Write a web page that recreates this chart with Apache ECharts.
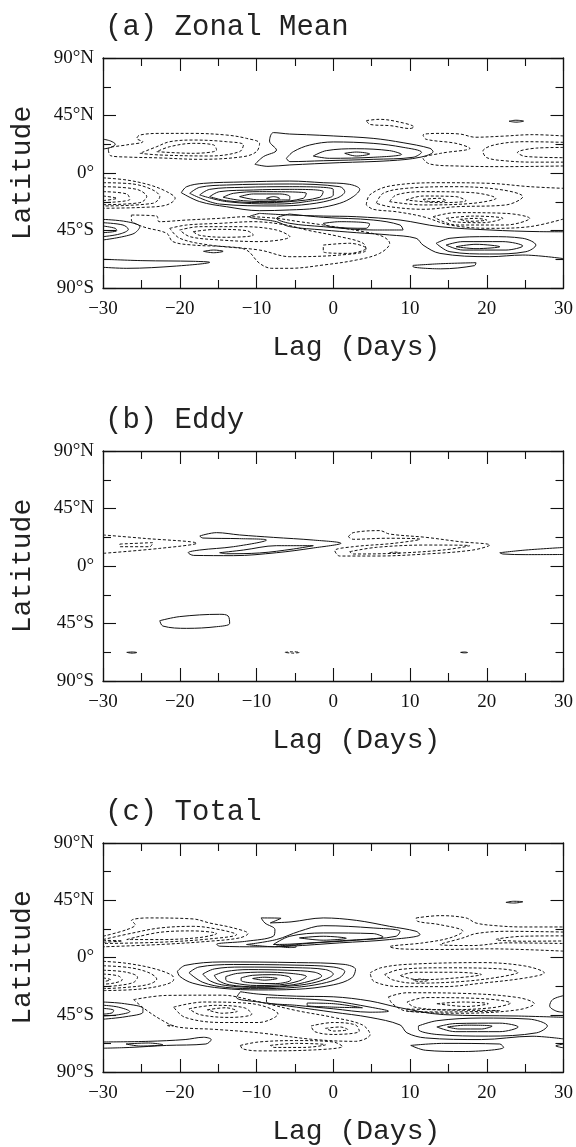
<!DOCTYPE html>
<html><head><meta charset="utf-8">
<script src="https://cdn.jsdelivr.net/npm/echarts@6/dist/echarts.min.js"></script>
<style>html,body{margin:0;padding:0;background:#fff}#c{width:576px;height:1147px}</style>
</head><body><div id="c"></div>
<script>
// ---- tick values / labels ----
const lagTickValues = [-30,-20,-10,0,10,20,30];
const lagTickLabels = ['\u221230','\u221220','\u221210','0','10','20','30'];
const latTickValues = [-90,-45,0,45,90];
const latTickLabels = ['90\u00b0S','45\u00b0S','0\u00b0','45\u00b0N','90\u00b0N'];
const panelTitles = ['(a) Zonal Mean','(b) Eddy','(c) Total'];
const xName = 'Lag (Days)';
const yName = 'Latitude';

// ---- contours, [lag, latitude] points ----
// (a) Zonal mean: positive (solid)
const zonalPos = [
 [[-30,26.5],[-29,25],[-28.4,22.5],[-29,20],[-30,18.8]],
 [[-10.2,6.8],[-9.1,12.8],[-7.4,18],[-8.3,25],[-7.8,31.6],[-5.7,30.5],[-3.5,30],[0,29],[5.2,27.1],[9.1,23.7],[12.6,19.3],[13,16.7],[11.3,12.3],[7.35,9.6],[0.85,8.1],[-5.66,6.3],[-8.5,5.2],[-10.2,6.8]],
 [[-6.1,11.5],[-5.2,16.7],[-3.06,21.9],[0,24.3],[5.2,23.2],[9.1,20.1],[11.5,16.2],[10.4,12.3],[5.2,10.7],[-1.3,9.6],[-5.66,8.9],[-6.1,11.5]],
 [[-2.6,13.3],[-0.9,17.5],[3,19],[7.35,17.5],[8.9,14.6],[5.2,12.3],[-0.5,11.5],[-2.6,13.3]],
 [[1.5,15.4],[3,16.4],[4.75,14.9],[3,13.3],[1.5,15.4]],
 [[22.9,40.5],[23.8,41.3],[24.8,40.6],[23.8,39.8],[22.9,40.5]],
 [[-19.8,-15.4],[-19.1,-10.7],[-16.9,-8.1],[-11.7,-7],[-5.66,-6.3],[-1.3,-7.6],[2.15,-8.9],[3.45,-12.8],[2.6,-18.5],[0.85,-23.7],[-2.2,-27.6],[-5.66,-28.9],[-9.6,-29.5],[-13.9,-26.4],[-17.4,-22.4],[-19.8,-15.4]],
 [[-18.7,-15.9],[-17.4,-11.2],[-13.9,-9.4],[-5.66,-8.6],[0.85,-10.7],[1.5,-14.6],[0.4,-19.8],[-3.06,-24.3],[-7.4,-25.8],[-14.8,-24.3],[-18.7,-15.9]],
 [[-17.4,-17.2],[-16.1,-12.8],[-11.7,-11.2],[-5.66,-10.7],[0,-12.8],[0,-17.2],[-3.5,-22.4],[-7.4,-24.3],[-13.9,-22.4],[-17.4,-17.2]],
 [[-16.1,-18.5],[-14.8,-14.6],[-10.4,-13.3],[-5.66,-12.8],[-1.3,-14.6],[-1.75,-19],[-5.66,-22.4],[-9.6,-23.2],[-13.9,-21.7],[-16.1,-18.5]],
 [[-14.35,-19],[-13,-15.9],[-9.6,-14.6],[-3.5,-15.9],[-3.9,-19.8],[-7.4,-22.4],[-11.7,-21.7],[-14.35,-19]],
 [[-12.2,-18.5],[-10.4,-16.4],[-7,-16.4],[-5.66,-18.5],[-5.7,-21.1],[-9.6,-21.1],[-12.2,-18.5]],
 [[-8.7,-19.8],[-7.8,-18.5],[-7,-19.8],[-7.8,-21.1],[-8.7,-19.8]],
 [[-9.6,-31.6],[-5.66,-32.9],[-1.3,-33.7],[3,-34.2],[8.7,-36.8],[13.9,-42],[20.4,-44.6],[26.9,-45.9],[30,-46]],
 [[30,-67],[24.7,-64.2],[20.4,-65.5],[13.9,-62.9],[11.7,-56.4],[10.8,-51.1],[7.35,-48.5],[3,-46.7],[-1.3,-44.6],[-5.66,-42],[-7.4,-38.1],[-10.9,-34.2],[-9.6,-31.6]],
 [[-5.7,-32.1],[-1.3,-34.7],[5.2,-36.8],[8.7,-40.7],[9.1,-44.6],[5.2,-44.6],[-1.3,-42],[-5.66,-39.4],[-7.4,-35.5],[-5.7,-32.1]],
 [[-1.3,-39.4],[0.85,-38.1],[4.75,-39.9],[4.3,-43.3],[-0.5,-42],[-1.3,-39.4]],
 [[13.4,-55],[15.2,-51.1],[20.4,-49.8],[24.7,-51.1],[26.4,-56.4],[25.1,-61.6],[20.4,-63.4],[15.2,-61.6],[13.4,-55]],
 [[14.7,-56.4],[16.9,-53.7],[22.1,-53.7],[24.7,-57.1],[22.5,-60.3],[16.9,-60.3],[14.7,-56.4]],
 [[16,-57.7],[18.6,-55.8],[21.7,-57.7],[18.6,-59.2],[16,-57.7]],
 [[-30,-36.3],[-26.9,-38.1],[-25.2,-42],[-26.1,-47.7],[-30,-52.4]],
 [[-30,-38.9],[-27.4,-40.7],[-26.7,-44.1],[-27.8,-47.7],[-30,-49.8]],
 [[-30,-41.5],[-28.4,-43.3],[-28.2,-45.1],[-30,-46.7]],
 [[-30,-67.5],[-24.8,-68.6],[-18.25,-69.1],[-16.1,-69.9],[-20.4,-72.8],[-26.9,-74.6],[-30,-73.8]],
 [[-16.9,-61.3],[-15.6,-60.3],[-14.35,-61.3],[-15.6,-62.4],[-16.9,-61.3]],
 [[10.4,-72.3],[14,-71],[18.6,-70.2],[18.4,-72.5],[14,-75],[10.4,-73.3],[10.4,-72.3]]
];
// (a) Zonal mean: negative (dashed)
const zonalNeg = [
 [[-29.3,18],[-29,13.5],[-26.9,12.5],[-22.6,11.8],[-17.4,10.7],[-11.7,12.8],[-10,16.7],[-9.6,23.2],[-11.3,27.1],[-13.9,29.7],[-18.25,31],[-22.6,31],[-25.2,29.7],[-25.6,27.1],[-24.8,24.5],[-26.9,22],[-29.3,19.3],[-29.3,18]],
 [[-25.2,15.4],[-22.6,14.1],[-16.1,13.3],[-12.2,16.7],[-11.7,22],[-13.9,24.5],[-18.25,25.8],[-21.3,24.5],[-23,20.6],[-25.2,15.4]],
 [[-23,16.7],[-18.25,15.4],[-15.2,18],[-15.6,22],[-18.25,23.2],[-21.3,20.6],[-23,16.7]],
 [[4.3,41],[6,42],[8.5,40],[10.5,36],[10,34.8],[7.5,37],[4.8,38],[4.3,41]],
 [[30,29],[26,30],[22,28.8],[18.5,28],[16.5,30.5],[13.9,31],[11.7,29.7],[12.1,26.4],[16,23.2],[17.8,19.3],[14,15.4],[11.7,11.5],[12.6,7],[16,5.5],[22.5,5],[30,5.5]],
 [[30,24],[25,24.5],[21,22],[19.5,17],[20,12],[22.5,9.5],[26,8.5],[30,8.5]],
 [[30,20],[26.5,19.5],[24,16],[25,13],[30,12]],
 [[-30,-3.8],[-26.9,-5.5],[-23.9,-9.4],[-21.7,-14.6],[-20.6,-19.8],[-21.7,-25],[-24.8,-26.9],[-30,-27.6]],
 [[-30,-7.6],[-26.1,-8.6],[-23.5,-13.3],[-22.6,-18.5],[-23.5,-23.7],[-30,-25.8]],
 [[-30,-10.7],[-25.6,-12.8],[-24.3,-18.5],[-25.2,-23.2],[-30,-24.8]],
 [[-30,-14.6],[-26.9,-16.4],[-26.5,-20.6],[-30,-23.2]],
 [[-30,-18],[-28.2,-19.8],[-30,-21.6]],
 [[-26.3,-32.9],[-23,-33.7],[-22.7,-38.1],[-19.1,-36.8],[-14.8,-35.5],[-11.3,-34.2],[-7.4,-35.5],[-4.4,-38.1],[-1.3,-40.7],[3.9,-45.9],[6.5,-49.8],[7.35,-55],[6.05,-62.9],[3,-68.1],[-1.3,-72],[-5.66,-74.6],[-8,-74.6],[-9.6,-70.7],[-11.3,-60.3],[-13.9,-57.7],[-18.25,-56.4],[-20.9,-53.7],[-21.7,-47.2],[-24.8,-42],[-26.3,-36.8],[-26.3,-32.9]],
 [[-21.3,-43.3],[-19.1,-40.7],[-14.8,-39.4],[-10.4,-38.1],[-6.1,-40.7],[-3.5,-44.6],[0.85,-49.8],[3.9,-55],[4.3,-60.3],[0.85,-64.2],[-5.66,-65.5],[-9.6,-60.3],[-16.1,-56.4],[-20,-51.1],[-21.3,-43.3]],
 [[-20,-44.6],[-17.4,-42],[-11.7,-42],[-7.4,-44.6],[-5.66,-49.8],[-9.6,-53.7],[-14.8,-52.4],[-18.7,-49.8],[-20,-44.6]],
 [[-18.25,-45.9],[-15.2,-44.1],[-11.3,-45.1],[-10.4,-48.5],[-13.9,-50.3],[-17.4,-48.8],[-18.25,-45.9]],
 [[-1.3,-56.4],[2.15,-55],[4.3,-58.9],[2.15,-62.9],[-1.3,-61.6],[-1.3,-56.4]],
 [[4.3,-25],[4.75,-17.2],[7.35,-10.2],[13.9,-7.6],[20.4,-8.1],[25.6,-10.7],[30,-12]],
 [[30,-36],[25.6,-42],[20.4,-43.3],[15.2,-40.7],[11.7,-34.2],[8.2,-30.3],[5.2,-28.4],[4.3,-25]],
 [[5.6,-23.7],[6.5,-15.9],[9.5,-12],[16,-10.7],[22.1,-13.3],[24.7,-18.5],[22.5,-25],[16,-26.4],[11.7,-28.4],[7.35,-26.4],[5.6,-23.7]],
 [[7.35,-22.4],[8.2,-17.2],[11.7,-14.6],[18.2,-15.4],[21.2,-19.8],[18.2,-23.7],[11.7,-25],[7.35,-22.4]],
 [[9.5,-21.1],[11.7,-18],[16,-18.5],[17.3,-21.7],[13.9,-23.2],[9.5,-21.1]],
 [[11.7,-20.6],[13.9,-19.8],[14.7,-21.7],[12.6,-22.4],[11.7,-20.6]],
 [[13,-34.2],[16,-31],[22.5,-31.6],[25.6,-35.5],[22.5,-40.7],[16,-40.7],[13,-34.2]],
 [[14.7,-35.5],[18.2,-33.7],[22.1,-35.5],[19.5,-38.9],[15.6,-38.1],[14.7,-35.5]],
 [[16.5,-36.3],[18.6,-35.5],[20,-36.8],[17.8,-37.8],[16.5,-36.3]]
];
// (b) Eddy
const eddyPos = [
 [[-17.4,23.5],[-15.2,26.1],[-12.2,24.3],[-7.8,22.4],[-2.6,20.3],[1,17.8],[-2.6,14.1],[-7.4,10.4],[-13,8.1],[-18.2,8.3],[-18.9,10.4],[-17.4,12.5],[-13,15.1],[-8.7,20.3],[-12.2,21.4],[-17,21.9],[-17.4,23.5]],
 [[-14.8,10.4],[-11.7,12.5],[-7.4,15.9],[-2.6,15.9],[-5.2,13.3],[-9.6,10.2],[-13.9,9.6],[-14.8,10.4]],
 [[21.7,10.4],[25.1,12.5],[30,14.5]],
 [[30,9],[25.1,8.9],[22.1,9.4],[21.7,10.4]],
 [[-22.6,-42.8],[-20,-39.6],[-14.8,-37.8],[-13.7,-39.1],[-13.5,-44.9],[-15.2,-47.5],[-19.1,-48.8],[-22.2,-47],[-22.6,-42.8]],
 [[-26.9,-67.6],[-26.2,-67.3],[-25.6,-67.7],[-26.2,-68.2],[-26.9,-67.6]],
 [[16.6,-67.6],[17.1,-67.3],[17.5,-67.7],[17.1,-68],[16.6,-67.6]]
];
const eddyNeg = [
 [[-30,24.3],[-24.8,21.7],[-17.8,17.8],[-22.6,13.8],[-30,9.9]],
 [[-27.8,17.2],[-23.5,18.3],[-23.9,15.1],[-27.8,15.1],[-27.8,17.2]],
 [[1.97,22.9],[2.6,26.1],[6.05,27.7],[7.35,25],[12.1,22.4],[16.5,19],[20.4,16.4],[18.2,12.5],[12.1,9.4],[5.6,7.8],[0.84,7.8],[0.2,12],[2.6,15.1],[7.8,17.7],[11.3,20.9],[6.9,21.7],[2.6,20.9],[1.97,22.9]],
 [[2.15,11.2],[5.6,14.6],[12.1,16.4],[17.8,15.9],[14.3,12.5],[7.8,9.9],[2.6,9.4],[2.15,11.2]],
 [[7.35,10.4],[8,10.9],[8.7,10.2],[8,9.8],[7.35,10.4]],
 [[-6.3,-67.6],[-5.3,-67.1],[-4.4,-67.6],[-5.3,-68.2],[-6.3,-67.6]]
];
// (c) Total: positive (solid)
const totalPos = [
 [[-9.4,31.1],[-6.8,30.8],[-8.2,27.2],[-5.5,28],[-1.3,31.1],[3,29.2],[7.35,24.5],[10.8,20.6],[11.3,18],[7.35,14.1],[0.85,11.5],[-5.66,8.9],[-9.6,8.4],[-14.8,8.9],[-15.2,10.4],[-11.3,12.8],[-7.8,16.7],[-7.6,21.9],[-8.9,27.1],[-9.4,31.1]],
 [[-11.3,10.2],[-7.4,14.1],[-4.4,20.6],[-1.3,25],[5.2,23.2],[8.7,20.6],[8.2,16.7],[3,13.6],[-3.5,11],[-7.4,8.4],[-11.3,10.2]],
 [[-7.8,10.2],[-5.66,16.7],[-1.3,19.3],[5.2,18.8],[6.5,16.2],[0.85,13.1],[-5.66,10.5],[-7.8,10.2]],
 [[-4.4,15.4],[-1.3,16.7],[1.7,15.1],[-1.3,13.6],[-4.4,15.4]],
 [[-7.4,8.9],[-5.2,9.9],[-4.8,8.4],[-5.7,7.8],[-7.4,8.9]],
 [[22.5,43.3],[23.5,44.2],[24.7,43.8],[23.5,42.8],[22.5,43.3]],
 [[-20.3,-10.8],[-19.3,-6.2],[-14.5,-3.5],[-4.8,-4],[1.4,-5.4],[2.9,-9.4],[2.4,-16.1],[0,-21.5],[-4.8,-25],[-9.7,-25.5],[-14.5,-24.2],[-18.3,-20.2],[-20,-14.8],[-20.3,-10.8]],
 [[-18.8,-12],[-17.5,-7.5],[-13,-5.5],[-5,-6],[0,-7.5],[1.5,-11],[0.8,-16],[-1.5,-20.5],[-5,-23.5],[-9.7,-24.5],[-14,-23.5],[-17,-19.5],[-18.8,-12]],
 [[-17,-13],[-15.5,-9],[-12,-7.5],[-5,-8],[-1,-9.5],[0,-13],[-1,-17],[-3.5,-21],[-7,-23],[-10,-23.5],[-14,-22],[-16,-18.5],[-17,-13]],
 [[-15.5,-14],[-14,-11],[-11,-9.5],[-6,-10],[-2.5,-11.5],[-1.5,-14.5],[-3,-18.5],[-6,-22],[-10,-23],[-13.5,-21.5],[-15,-18],[-15.5,-14]],
 [[-14,-15],[-12.5,-12.5],[-9,-11.5],[-5.5,-12.5],[-3.5,-15],[-4.5,-18.5],[-7,-21.5],[-10,-22],[-13,-20],[-14,-17.5],[-14,-15]],
 [[-12,-16],[-10.5,-14],[-8,-13.5],[-5.8,-15],[-5.5,-17.5],[-7.5,-20.5],[-10.5,-20],[-12,-18],[-12,-16]],
 [[-10.5,-16.5],[-9,-15.5],[-7.3,-16.5],[-9,-17.8],[-10.5,-16.5]],
 [[-30,-35],[-27.2,-36.3],[-24.8,-40],[-24.8,-43],[-27,-46.5],[-30,-48.5]],
 [[-30,-37.5],[-28,-39],[-26.5,-42.5],[-28,-45],[-30,-46]],
 [[-30,-40],[-28.6,-41.5],[-28.8,-43.5],[-30,-44.5]],
 [[-12.1,-26.9],[-9.7,-28.8],[-4.8,-30.4],[0,-30.9],[4.8,-34.2],[8.7,-39.5],[14.4,-44.9],[24.1,-46],[30,-47]],
 [[30,-64],[25.9,-61.9],[19.3,-64.5],[12,-63.2],[9.6,-59.2],[8.7,-53],[4.8,-47.1],[0,-43],[-4.8,-39],[-9.7,-35],[-12.6,-31.5],[-12.1,-26.9]],
 [[-8.7,-31.5],[-4.8,-32.3],[0,-34.2],[4.8,-39],[7.2,-42.2],[4.8,-43],[0,-40.3],[-4.8,-37.6],[-8.7,-35],[-8.7,-31.5]],
 [[-3.4,-35.8],[0,-36.3],[3.8,-39.5],[0,-39],[-3.4,-37.6],[-3.4,-35.8]],
 [[11.1,-53.8],[13.5,-49.7],[19.3,-47.6],[25.5,-48.4],[27.9,-53.8],[26.5,-59.2],[20.2,-61.8],[13.5,-60.5],[11.1,-56.5],[11.1,-53.8]],
 [[13.5,-54.6],[15.9,-51.9],[21.7,-51.6],[24.1,-54.6],[21.7,-58.3],[15.9,-58.3],[13.5,-54.6]],
 [[14.9,-54.6],[17.3,-53.2],[20.7,-54],[19.3,-56.2],[16.4,-56.2],[14.9,-54.6]],
 [[-29.9,-66.4],[-24.1,-65.9],[-19.3,-64.5],[-16.9,-62.7],[-15.9,-64.5],[-16.6,-68],[-21.7,-69.1],[-26.5,-70.7],[-30,-71.3]],
 [[-27,-68],[-24.1,-67.2],[-22.2,-68.6],[-25.1,-69.6],[-27,-68]],
 [[10.1,-69.1],[14.4,-67.5],[21.7,-68],[22.2,-70.7],[16.9,-73.9],[12,-72.9],[10.1,-69.1]],
 [[30,-30],[28.6,-33],[28.2,-38],[29,-42],[30,-43]],
 [[30,-68],[29,-69.5],[30,-71]]
];
// (c) Total: negative (dashed)
const totalNeg = [
 [[-30,16.7],[-26.9,21.9],[-25.8,25.8],[-26.3,29],[-24.3,31.1],[-18.25,30.3],[-16.1,27.1],[-13,23.2],[-11.1,18.8],[-12.2,15.4],[-16.1,12.8],[-22.6,10.2],[-30,8.4]],
 [[-30,14.1],[-26.1,19.3],[-22.6,23.2],[-18.25,24.5],[-14.8,21.9],[-12.6,18],[-16.1,14.6],[-22.6,12],[-30,11]],
 [[-26.9,14.1],[-22.6,19.8],[-18.25,20.9],[-15.2,18.8],[-17.4,15.7],[-22.6,14.1],[-26.9,14.1]],
 [[-30,13.5],[-27.5,13],[-30,12]],
 [[10.8,31.1],[13.9,32.9],[17.3,31.1],[18.6,27.1],[21.2,25],[24.7,24],[30,24]],
 [[30,5],[20.4,6.8],[13.9,6.3],[8.7,6.8],[7.35,8.4],[11.7,11.5],[15.2,15.4],[16.9,20.6],[13.9,25.8],[11,28.4],[10.8,31.1]],
 [[30,20],[22.5,20.6],[18.6,18.8],[16.9,15.4],[13.9,10.2],[18.2,9.4],[22.5,11.5],[30,11]],
 [[30,17],[24.7,16.7],[21.2,14.1],[24.7,12.8],[30,13]],
 [[-30,-3],[-27,-4.5],[-23.5,-8.5],[-21,-14],[-20.8,-17.5],[-22,-21.5],[-25.5,-25],[-30,-26]],
 [[-30,-6.5],[-26.5,-8],[-24,-12],[-23,-17],[-24,-21],[-27,-23.5],[-30,-24.5]],
 [[-30,-10],[-27,-11.5],[-25.5,-15.5],[-26,-19.5],[-28,-22],[-30,-23]],
 [[-30,-13],[-28,-14.5],[-27.5,-17.5],[-28.5,-20],[-30,-21]],
 [[-30,-16],[-29,-17.5],[-30,-19]],
 [[4.8,-12.1],[6.2,-8.1],[9.6,-5.4],[19.3,-4],[25,-6.7],[27.5,-12.1],[25,-16.1],[19.3,-20.2],[14.4,-22.9],[8.7,-22.9],[5.3,-18.8],[4.8,-12.1]],
 [[6.7,-13.4],[8.7,-9.4],[14.4,-8.1],[21.7,-8.9],[24.1,-11.6],[21.7,-15.3],[16.9,-18.8],[10.6,-20.2],[7.7,-17.5],[6.7,-13.4]],
 [[8.7,-14.3],[10.6,-11.6],[15.9,-11.6],[19.3,-13.4],[15.9,-16.1],[11.1,-17.5],[8.7,-14.3]],
 [[10.4,-17.7],[11.3,-16.9],[12.3,-18],[11.3,-19.1],[10.4,-17.7]],
 [[7.2,-30.9],[9.6,-27.7],[16.9,-28.2],[24.1,-31.5],[26.2,-36.3],[24.1,-41.1],[16.9,-43.8],[9.6,-42.2],[7.7,-36.3],[7.2,-30.9]],
 [[9.6,-35],[12,-31.5],[19.3,-32.3],[23.1,-35.8],[20.7,-39.5],[14.4,-41.1],[10.6,-39],[9.6,-35]],
 [[13.5,-36.3],[16.9,-35],[20.2,-36.3],[17.3,-38.5],[13.5,-36.3]],
 [[9.6,-40.5],[15,-41.3],[21.7,-41.8],[15,-42.8],[9.6,-42],[9.6,-40.5]],
 [[-26,-33.1],[-21.7,-29.8],[-14.5,-29.6],[-10.6,-33.6],[-4.8,-41.7],[0,-47.1],[3.8,-53],[4.8,-60.5],[2.9,-65.9],[-2.4,-64.5],[-9.7,-59.2],[-15.4,-56.5],[-20.3,-54.6],[-22.2,-49.7],[-24.6,-40.3],[-26,-33.1]],
 [[-20.8,-39],[-16.9,-35],[-10.6,-36.3],[-7.2,-44.4],[-9.7,-51.1],[-14.5,-51.1],[-19.3,-47.1],[-20.8,-39]],
 [[-18.8,-40.3],[-15.4,-37.6],[-11.6,-39.5],[-10.6,-44.4],[-13.5,-47.1],[-17.4,-44.9],[-18.8,-40.3]],
 [[-16.4,-41.1],[-14,-39.5],[-12.5,-42.2],[-14.5,-43.8],[-16.4,-41.1]],
 [[-2.9,-53.8],[0,-51.1],[2.9,-53],[3.4,-57.8],[0,-60.5],[-2.4,-58.3],[-2.9,-53.8]],
 [[-1,-55.7],[0.9,-54.6],[1.9,-56.7],[0,-57.8],[-1,-55.7]],
 [[-21.6,-53.5],[-21.2,-53.2],[-20.8,-53.6],[-21.2,-54],[-21.6,-53.5]],
 [[-12.1,-69.1],[-9.7,-66.4],[-4.8,-65.3],[0,-66.4],[1.2,-69.9],[-2.4,-72.6],[-9.7,-73.4],[-11.8,-71.8],[-12.1,-69.1]],
 [[-8.2,-69.1],[-4.8,-67.5],[-1,-68.6],[-3.9,-70.7],[-7.7,-70.7],[-8.2,-69.1]]
];

const panels = [[zonalPos, zonalNeg],[eddyPos, eddyNeg],[totalPos, totalNeg]];

// ---- layout ----
const gridTops = [58, 451, 843];
const GL = 103, GR = 12, GH = 230;
const serif = '"Liberation Serif", serif';
const mono = '"Liberation Mono", monospace';
const ink = '#111';

const grids = [], xAxes = [], yAxes = [], series = [], titles = [];
gridTops.forEach((top, g) => {
  grids.push({left: GL, right: GR, top: top, height: GH});
  titles.push({text: panelTitles[g], left: GL - 3, top: top - 50,
    textStyle: {fontFamily: mono, fontSize: 29, fontWeight: 'normal', color: '#222'}});
  const xBase = {type: 'value', gridIndex: g, min: -30, max: 30, interval: 10,
    axisLine: {show: true, onZero: false, lineStyle: {color: ink, width: 1.3}},
    axisTick: {show: true, inside: true, length: 13, lineStyle: {color: ink, width: 1.1}},
    minorTick: {show: true, splitNumber: 2, length: 8, lineStyle: {color: ink, width: 1.1}},
    splitLine: {show: false}, minorSplitLine: {show: false}};
  xAxes.push(Object.assign({}, xBase, {position: 'bottom',
    name: xName, nameLocation: 'middle', nameGap: 46,
    nameTextStyle: {fontFamily: mono, fontSize: 28, color: '#222', padding: [0, 0, 0, 46]},
    axisLabel: {show: true, margin: 12, fontFamily: serif, fontSize: 19, color: ink,
      formatter: v => lagTickLabels[lagTickValues.indexOf(v)]}}));
  xAxes.push(Object.assign({}, xBase, {position: 'top', axisLabel: {show: false}}));
  const yBase = {type: 'value', gridIndex: g, min: -90, max: 90, interval: 45,
    axisLine: {show: true, onZero: false, lineStyle: {color: ink, width: 1.3}},
    axisTick: {show: true, inside: true, length: 13, lineStyle: {color: ink, width: 1.1}},
    minorTick: {show: true, splitNumber: 2, length: 8, lineStyle: {color: ink, width: 1.1}},
    splitLine: {show: false}, minorSplitLine: {show: false}};
  yAxes.push(Object.assign({}, yBase, {position: 'left',
    name: yName, nameLocation: 'middle', nameGap: 66, nameRotate: 90,
    nameTextStyle: {fontFamily: mono, fontSize: 28, color: '#222'},
    axisLabel: {show: true, margin: 9, fontFamily: serif, fontSize: 19, color: ink,
      formatter: v => latTickLabels[latTickValues.indexOf(v)]}}));
  yAxes.push(Object.assign({}, yBase, {position: 'right', axisLabel: {show: false}}));
  const [pos, neg] = panels[g];
  const mk = (pts, dashed) => ({type: 'line', xAxisIndex: 2 * g, yAxisIndex: 2 * g, data: pts,
    smooth: 0.35, showSymbol: false, silent: true, animation: false, clip: true,
    lineStyle: {color: ink, width: 1, type: dashed ? [3, 2] : 'solid'}});
  pos.forEach(p => series.push(mk(p, false)));
  neg.forEach(p => series.push(mk(p, true)));
});

const chart = echarts.init(document.getElementById('c'), null, {renderer: 'canvas'});
chart.setOption({backgroundColor: '#fff', animation: false, title: titles,
  grid: grids, xAxis: xAxes, yAxis: yAxes, series: series});
</script></body></html>
